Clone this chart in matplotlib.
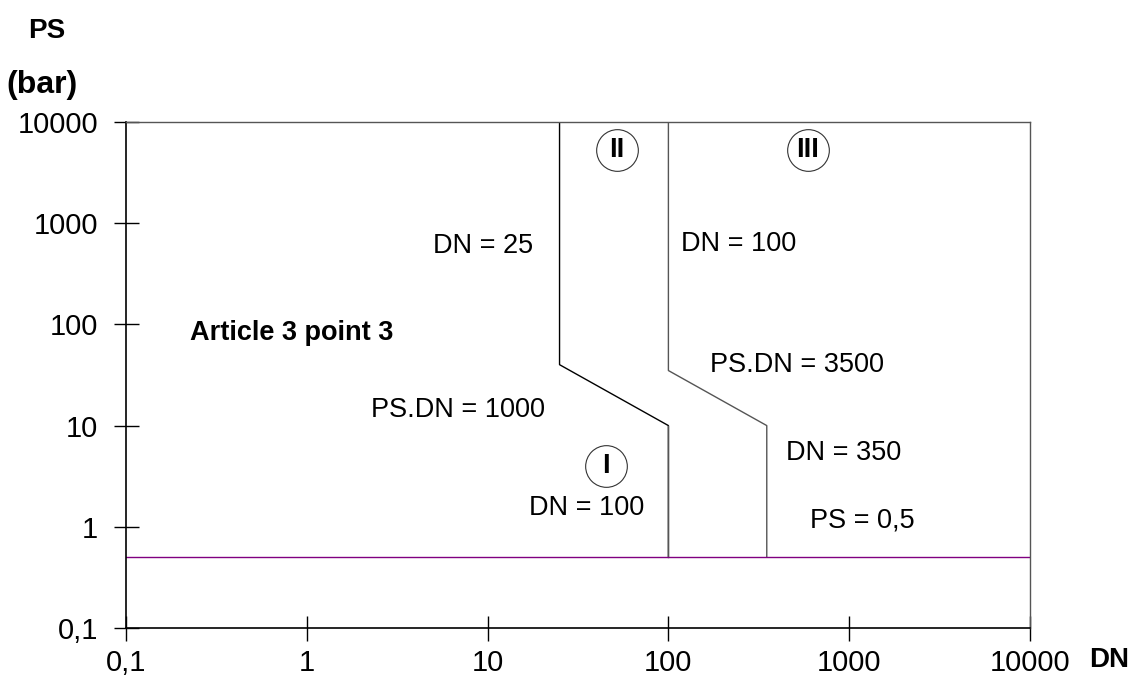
import numpy as np
import matplotlib.pyplot as plt
from matplotlib.ticker import FixedLocator, NullLocator

plt.rcParams['font.family'] = ['Liberation Sans', 'DejaVu Sans']

# category boundaries (DN, PS in bar)
ps_min = 0.5
cat1_dn = [25, 25, 100, 100]
cat1_ps = [10000, 40, 10, ps_min]
cat2_dn = [100, 100, 350, 350]
cat2_ps = [10000, 35, 10, ps_min]
low_dn = [100, 100]
low_ps = [10, ps_min]

ticks = [0.1, 1, 10, 100, 1000, 10000]
tick_labels = ['0,1', '1', '10', '100', '1000', '10000']

# annotations: text, x, y
notes = [
    ('DN = 25', 9.4, 600),
    ('DN = 100', 245, 630),
    ('PS.DN = 1000', 6.9, 14.3),
    ('PS.DN = 3500', 515, 40),
    ('DN = 350', 930, 5.4),
    ('DN = 100', 35.5, 1.53),
    ('PS = 0,5', 1180, 1.14),
]
circles = [('II', 52, 5300), ('III', 590, 5300), ('I', 45, 4.0)]

FS = 19.5

fig = plt.figure(figsize=(11.35, 6.84), dpi=100)
ax = fig.add_axes([0.111, 0.082, 0.7965, 0.7395])
ax.set_xscale('log')
ax.set_yscale('log')
ax.set_xlim(0.1, 10000)
ax.set_ylim(0.1, 10000)

ax.plot(cat1_dn, cat1_ps, color='black', lw=1)
ax.plot(cat2_dn, cat2_ps, color='#555555', lw=1)
ax.plot(low_dn, low_ps, color='#555555', lw=1)
ax.axhline(ps_min, color='#800080', lw=1)

for t, x, y in notes:
    ax.text(x, y, t, ha='center', va='center', fontsize=FS)
ax.text(0.225, 82, 'Article 3 point 3', ha='left', va='center',
        fontsize=FS, fontweight='bold')

for t, x, y in circles:
    ax.scatter([x], [y], s=900, facecolors='white', edgecolors='#333333',
               linewidths=0.8, zorder=3)
    ax.text(x, y, t, ha='center', va='center', fontsize=FS,
            fontweight='bold', zorder=4)

ax.xaxis.set_major_locator(FixedLocator(ticks))
ax.yaxis.set_major_locator(FixedLocator(ticks))
ax.xaxis.set_minor_locator(NullLocator())
ax.yaxis.set_minor_locator(NullLocator())
ax.set_xticklabels(tick_labels)
ax.set_yticklabels(tick_labels)
ax.tick_params(direction='inout', length=18, width=1, labelsize=21)
ax.tick_params(axis='y', pad=11)
ax.tick_params(axis='x', pad=6)

for s in ['left', 'bottom']:
    ax.spines[s].set_color('black')
    ax.spines[s].set_linewidth(1.2)
for s in ['top', 'right']:
    ax.spines[s].set_color('#555555')
    ax.spines[s].set_linewidth(1)

fig.text(0.041, 0.954, 'PS', fontsize=20, fontweight='bold', va='center', ha='center')
fig.text(0.006, 0.876, '(bar)', fontsize=23, fontweight='bold', va='center', ha='left')
fig.text(0.977, 0.035, 'DN', fontsize=20, fontweight='bold', va='center', ha='center')

fig.savefig('out.png', dpi=100)
